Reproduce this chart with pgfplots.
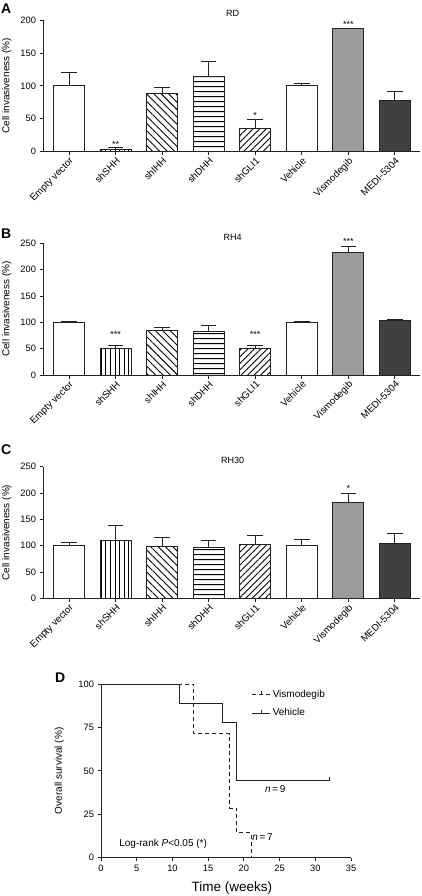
\documentclass[border=0pt]{standalone}
\usepackage{fontspec}
\setmainfont{Liberation Sans}
\usepackage{pgfplots}
\pgfplotsset{compat=1.18}
\usetikzlibrary{patterns.meta}
\pgfdeclareplotmark{censor}{\pgfpathmoveto{\pgfpoint{0pt}{0pt}}\pgfpathlineto{\pgfpoint{0pt}{\pgfplotmarksize}}\pgfusepathqstroke}
\definecolor{vis}{HTML}{9B9B9B}
\definecolor{medi}{HTML}{404040}
\definecolor{axc}{HTML}{222222}
\pgfplotsset{
  base/.style={
    scale only axis,
    axis lines=left, axis line style={-, line width=0.8pt, color=axc},
    tick align=outside, major tick length=3.5pt,
    tick style={line width=0.8pt, color=axc},
    /pgf/number format/assume math mode=true,
    tick label style={font=\fontsize{9.3}{11}\selectfont},
    label style={font=\fontsize{9.5}{11}\selectfont},
    clip=false,
  },
  barpanel/.style={
    base,
    width=377pt, height=131.7pt,
    xmin=-0.56, xmax=7.54, ymin=0,
    xtick={0,...,7},
    xticklabels={Empty vector,shSHH,shIHH,shDHH,shGLI1,Vehicle,Vismodegib,MEDI-5304},
    xticklabel style={rotate=45, anchor=north east, inner sep=1pt, font=\fontsize{9.7}{11}\selectfont},
    ylabel={Cell invasiveness (\%)},
    every axis y label/.style={at={(axis description cs:-0.096,0.5)}, rotate=90, anchor=center},
    every axis title/.style={at={(axis description cs:0.503,1)}, anchor=base, inner sep=0pt, yshift=3pt, font=\fontsize{9}{11}\selectfont},
    ybar, bar width=31pt, /pgf/bar shift=0pt,
    every axis plot/.append style={draw=axc, line width=0.8pt,
      error bars/y dir=plus, error bars/y explicit,
      error bars/error bar style={line width=0.8pt, color=axc},
      error bars/error mark options={rotate=90, line width=0.8pt, mark size=7.8pt, color=axc}},
  },
  pv/.style={pattern={Lines[angle=90,distance=4.6pt,line width=0.9pt]}, pattern color=black},
  pb/.style={pattern={Lines[angle=-45,distance=5.2pt,line width=0.9pt]}, pattern color=black},
  ph/.style={pattern={Lines[angle=0,distance=5.4pt,line width=1.1pt]}, pattern color=black},
  pf/.style={pattern={Lines[angle=45,distance=4.6pt,line width=0.9pt]}, pattern color=black},
}
\begin{document}
\begin{tikzpicture}
\path[use as bounding box] (0pt,0pt) rectangle (422pt,-896pt);
\node[anchor=north west, inner sep=0pt, font=\bfseries\fontsize{14}{14}\selectfont] at (1pt,-4pt) {A};
\node[anchor=north west, inner sep=0pt, font=\bfseries\fontsize{14}{14}\selectfont] at (1pt,-229pt) {B};
\node[anchor=north west, inner sep=0pt, font=\bfseries\fontsize{14}{14}\selectfont] at (1pt,-445pt) {C};
\node[anchor=north west, inner sep=0pt, font=\bfseries\fontsize{14}{14}\selectfont] at (55pt,-673pt) {D};

% ---------------- A: RD
\begin{axis}[barpanel, at={(43pt,-151.7pt)}, anchor=south west,
  ymax=200, ytick={0,50,100,150,200}, title={RD}]
\addplot[fill=white] coordinates {(0,100) +- (0,20)};
\addplot[pv] coordinates {(1,4) +- (0,2)};
\addplot[pb] coordinates {(2,89) +- (0,8)};
\addplot[ph] coordinates {(3,114) +- (0,23)};
\addplot[pf] coordinates {(4,35) +- (0,14)};
\addplot[fill=white] coordinates {(5,100) +- (0,3)};
\addplot[fill=vis] coordinates {(6,187) +- (0,1)};
\addplot[fill=medi] coordinates {(7,78) +- (0,13)};
\node[font=\fontsize{9}{10}\selectfont] at (axis cs:1,11) {**};
\node[font=\fontsize{9}{10}\selectfont] at (axis cs:4,55) {*};
\node[font=\fontsize{9}{10}\selectfont] at (axis cs:6,194) {***};
\end{axis}

% ---------------- B: RH4
\begin{axis}[barpanel, at={(43pt,-375pt)}, anchor=south west,
  ymax=250, ytick={0,50,100,150,200,250}, title={RH4}]
\addplot[fill=white] coordinates {(0,100) +- (0,2)};
\addplot[pv] coordinates {(1,51) +- (0,6)};
\addplot[pb] coordinates {(2,84) +- (0,6)};
\addplot[ph] coordinates {(3,83) +- (0,11)};
\addplot[pf] coordinates {(4,50) +- (0,7)};
\addplot[fill=white] coordinates {(5,100) +- (0,2)};
\addplot[fill=vis] coordinates {(6,233) +- (0,11)};
\addplot[fill=medi] coordinates {(7,103) +- (0,2)};
\node[font=\fontsize{9}{10}\selectfont] at (axis cs:1,77) {***};
\node[font=\fontsize{9}{10}\selectfont] at (axis cs:4,77) {***};
\node[font=\fontsize{9}{10}\selectfont] at (axis cs:6,254) {***};
\end{axis}

% ---------------- C: RH30
\begin{axis}[barpanel, at={(43pt,-598.3pt)}, anchor=south west,
  ymax=250, ytick={0,50,100,150,200,250}, title={RH30}]
\addplot[fill=white] coordinates {(0,100) +- (0,7)};
\addplot[pv] coordinates {(1,110) +- (0,28)};
\addplot[pb] coordinates {(2,98) +- (0,18)};
\addplot[ph] coordinates {(3,97) +- (0,13)};
\addplot[pf] coordinates {(4,103) +- (0,16)};
\addplot[fill=white] coordinates {(5,100) +- (0,11)};
\addplot[fill=vis] coordinates {(6,183) +- (0,17)};
\addplot[fill=medi] coordinates {(7,105) +- (0,19)};
\node[font=\fontsize{9}{10}\selectfont] at (axis cs:6,209) {*};
\end{axis}

% ---------------- D: survival
\begin{axis}[base, at={(101pt,-857.7pt)}, anchor=south west,
  width=250pt, height=173.7pt,
  xmin=0, xmax=35, ymin=0, ymax=100,
  xtick={0,5,...,35}, ytick={0,25,50,75,100},
  xlabel={Time (weeks)}, ylabel={Overall survival (\%)},
  every axis x label/.style={at={(axis description cs:0.524,-0.173)}, anchor=center, font=\fontsize{13.5}{15}\selectfont},
  every axis y label/.style={at={(axis description cs:-0.167,0.5)}, rotate=90, anchor=center},
  legend cell align=left,
  legend style={draw=none, fill=none, at={(axis description cs:0.603,0.887)}, anchor=west,
    font=\fontsize{10}{12}\selectfont, row sep=6pt, inner sep=0pt},
  legend image code/.code={\draw[#1] (0pt,0pt) -- (18pt,0pt); \draw[#1,solid] (9pt,0pt) -- (9pt,3.5pt);},
]
\addplot[axc, line width=0.8pt, dash pattern=on 4pt off 3pt] coordinates {
 (0,100) (13,100) (13,71.4) (18,71.4) (18,28.6) (19,28.6) (19,14.3) (21,14.3) (21,0)};
\addlegendentry{Vismodegib}
\addplot[axc, line width=0.8pt] coordinates {
 (0,100) (11,100) (11,88.9) (17,88.9) (17,77.8) (19,77.8) (19,44.4) (32,44.4)};
\addlegendentry{Vehicle}
\addplot[axc, line width=0.8pt, only marks, mark=censor, mark size=3.5pt, forget plot] coordinates {(32,44.4)};
\node[font=\fontsize{10}{12}\selectfont] at (axis cs:24.4,39.5) {\textit{n}\,=\,9};
\node[font=\fontsize{10}{12}\selectfont] at (axis cs:22.6,11.7) {\textit{n}\,=\,7};
\node[font=\fontsize{10}{12}\selectfont] at (axis cs:8.7,7.9) {Log-rank \textit{P}<0.05 (*)};
\end{axis}
\end{tikzpicture}
\end{document}
